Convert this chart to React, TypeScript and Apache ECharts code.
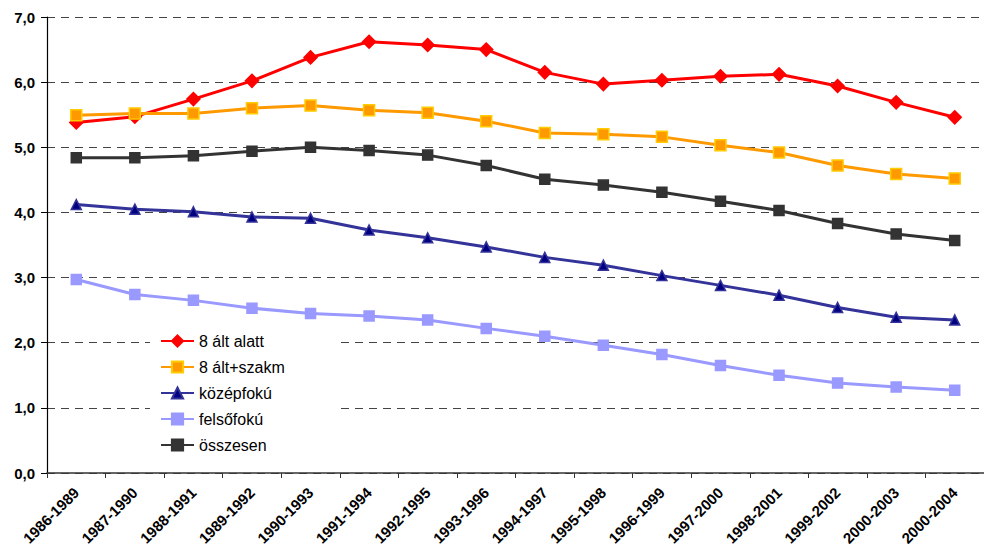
import React, { useEffect, useRef } from "react";
import * as echarts from "echarts";

const categories = [
  "1986-1989", "1987-1990", "1988-1991", "1989-1992", "1990-1993", "1991-1994",
  "1992-1995", "1993-1996", "1994-1997", "1995-1998", "1996-1999", "1997-2000",
  "1998-2001", "1999-2002", "2000-2003", "2000-2004",
];

const alt8Alatt = [5.38, 5.47, 5.74, 6.02, 6.38, 6.62, 6.57, 6.50, 6.15, 5.97, 6.03, 6.09, 6.12, 5.94, 5.69, 5.46];
const alt8Szakm = [5.49, 5.52, 5.52, 5.60, 5.64, 5.57, 5.53, 5.40, 5.22, 5.20, 5.16, 5.03, 4.92, 4.72, 4.59, 4.52];
const kozepfoku = [4.12, 4.05, 4.01, 3.93, 3.91, 3.73, 3.61, 3.47, 3.31, 3.19, 3.03, 2.88, 2.73, 2.54, 2.39, 2.35];
const felsofoku = [2.97, 2.74, 2.65, 2.53, 2.45, 2.41, 2.35, 2.22, 2.10, 1.96, 1.82, 1.65, 1.50, 1.38, 1.32, 1.27];
const osszesen = [4.84, 4.84, 4.87, 4.94, 5.00, 4.95, 4.88, 4.72, 4.51, 4.42, 4.31, 4.17, 4.03, 3.83, 3.67, 3.57];

const yMin = 0;
const yMax = 7;
const yInterval = 1;

export default function App() {
  const ref = useRef<HTMLDivElement>(null);
  useEffect(() => {
    if (!ref.current) return;
    const chart = echarts.init(ref.current, null, { renderer: "svg" });
    const font = "Liberation Sans, Arial, sans-serif";
    const mk = (
      name: string,
      data: number[],
      color: string,
      symbol: string,
      symbolSize: number,
      fill: string,
      border: string
    ) => ({
      name,
      type: "line",
      data,
      symbol,
      symbolSize,
      lineStyle: { color, width: 3 },
      itemStyle: { color: fill, borderColor: border, borderWidth: 1.5 },
      emphasis: { disabled: true },
    });
    chart.setOption({
      animation: false,
      backgroundColor: "#ffffff",
      textStyle: { fontFamily: font },
      grid: { left: 47, top: 17, width: 939, height: 456, containLabel: false },
      legend: {
        orient: "vertical",
        left: 150,
        top: 325,
        padding: [8, 54, 8, 10],
        itemGap: 10,
        itemWidth: 33,
        itemHeight: 14,
        backgroundColor: "#ffffff",
        textStyle: { fontFamily: font, fontSize: 16, color: "#000" },
        data: ["8 ált alatt", "8 ált+szakm", "középfokú", "felsőfokú", "összesen"],
      },
      xAxis: {
        type: "category",
        data: categories,
        boundaryGap: true,
        axisLine: { lineStyle: { color: "#333", width: 1.5 } },
        axisTick: { show: true, inside: false, length: 5, alignWithLabel: false, lineStyle: { color: "#333" } },
        axisLabel: {
          rotate: 45,
          margin: 17,
          interval: 0,
          fontFamily: font,
          fontSize: 15,
          fontWeight: "bold",
          color: "#000",
        },
      },
      yAxis: {
        type: "value",
        min: yMin,
        max: yMax,
        interval: yInterval,
        axisLine: { show: true, lineStyle: { color: "#000", width: 1.2 } },
        axisTick: { show: true, length: 6, lineStyle: { color: "#000" } },
        axisLabel: {
          margin: 12,
          fontFamily: font,
          fontSize: 15,
          fontWeight: "bold",
          color: "#000",
          formatter: (v: number) => v.toFixed(1).replace(".", ","),
        },
        splitLine: {
          show: true,
          lineStyle: { color: "#444", width: 1, type: [8, 6] },
        },
      },
      series: [
        mk("8 ált alatt", alt8Alatt, "#FF0000", "diamond", 13, "#FF0000", "#FF0000"),
        mk("8 ált+szakm", alt8Szakm, "#FF9900", "rect", 11, "#FF9900", "#FFCC00"),
        mk("középfokú", kozepfoku, "#333399", "triangle", 10, "#000080", "#333399"),
        mk("felsőfokú", felsofoku, "#9999FF", "rect", 10, "#9999FF", "#9999FF"),
        mk("összesen", osszesen, "#333333", "rect", 10, "#333333", "#333333"),
      ],
    });
    return () => chart.dispose();
  }, []);
  return <div ref={ref} style={{ width: 984, height: 555, position: "absolute", left: 0, top: 0 }} />;
}
